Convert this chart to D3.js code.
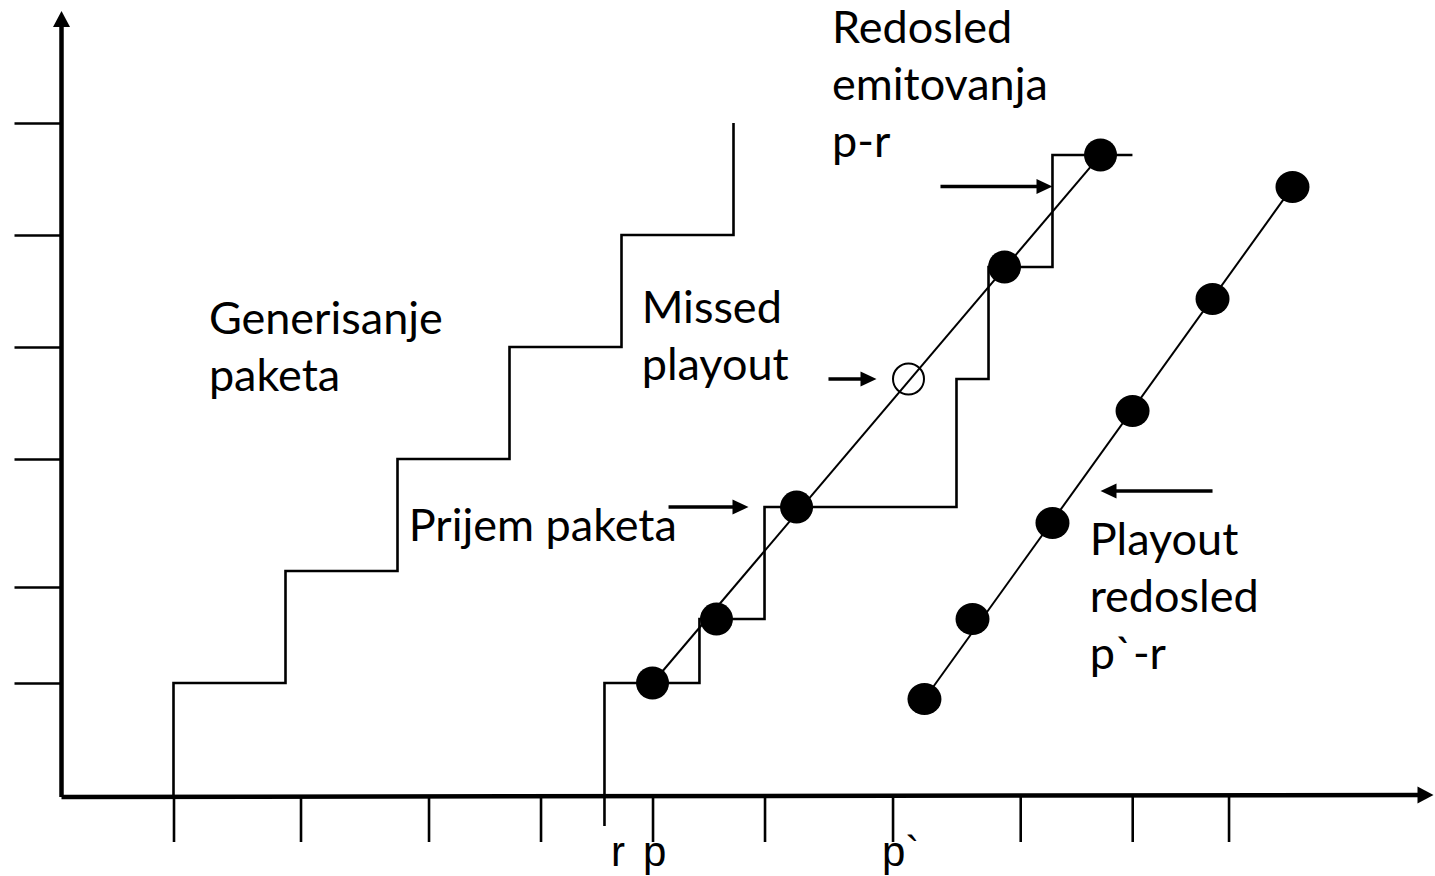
<!DOCTYPE html>
<html>
<head>
<meta charset="utf-8">
<script src="https://cdn.jsdelivr.net/npm/d3@7"></script>
<style>
  html, body { margin: 0; padding: 0; background: #fff; }
  svg { display: block; }
</style>
</head>
<body>
<svg id="chart" width="1435" height="876"></svg>
<script>
// ---------- data (in diagram units) ----------
const yTicks = [1, 1.857, 3, 4, 5, 6];
const xTicks = [1, 2.134, 3.277, 4.277, 5.277, 6.277, 7.42, 8.56, 9.56, 10.42];

// packet generation staircase
const genStepX = [1, 2, 3, 4, 5, 6];
const genLevelY = [1, 2, 3, 4, 5, 6];

// packet reception staircase
const recvStepX = [4.848, 5.696, 6.277, 7.991, 8.277, 8.848];
const recvLevelY = [1.0, 1.571, 2.571, 3.714, 4.714, 5.714];
const recvStartY = -0.277;
const recvEndX = 9.562;

// emission order p-r (dots); missed = open circle
const emitX = [5.277, 5.848, 6.563, 7.5625, 8.42, 9.277];
const emitY = [1.0, 1.571, 2.571, 3.714, 4.714, 5.714];
const emitMissed = [false, false, false, true, false, false];

// playout order p`-r
const playX = [7.705, 8.134, 8.848, 9.563, 10.277, 10.991];
const playY = [0.857, 1.571, 2.429, 3.429, 4.429, 5.429];

// annotation arrows [x1, x2, y]
const arrowX1 = [7.848, 6.848, 5.42, 10.277];
const arrowX2 = [8.848, 7.277, 6.134, 9.277];
const arrowY = [5.433, 3.714, 2.571, 2.714];

// text blocks
const labelLines = [
  ["Redosled", "emitovanja", "p-r"],
  ["Generisanje", "paketa"],
  ["Missed", "playout"],
  ["Prijem paketa"],
  ["Playout", "redosled", "p`-r"]
];
const labelX = [6.88, 1.316, 5.18, 3.1, 9.18];
const labelY = [6.714, 4.116, 4.214, 2.268, 2.139];

const axisLabels = ["r", "p", "p`"];
const axisLabelX = [4.906, 5.192, 7.326];
const axisLabelY = -0.634;

// ---------- drawing ----------
const svg = d3.select("#chart");
const x = d3.scaleLinear().domain([0, 12.25]).range([61.5, 1433.5]);
const y = d3.scaleLinear().domain([0, 7]).range([795, 11]);
const ink = "#000";

// ticks via d3 axes
const xAxis = d3.axisBottom(x).tickValues(xTicks).tickSize(47).tickFormat("");
const gx = svg.append("g").attr("transform", `translate(0,${y(0)})`).call(xAxis);
gx.select(".domain").remove();
gx.selectAll(".tick line").attr("stroke", ink).attr("stroke-width", 2.6);

const yAxis = d3.axisLeft(y).tickValues(yTicks).tickSize(47).tickFormat("");
const gy = svg.append("g").attr("transform", `translate(${x(0)},0)`).call(yAxis);
gy.select(".domain").remove();
gy.selectAll(".tick line").attr("stroke", ink).attr("stroke-width", 2.6);

// main axes with arrowheads
const x0 = x(0), y0 = y(0);
const xEnd = x.range()[1], yEnd = y.range()[1];
svg.append("line").attr("x1", x0).attr("y1", y0 + 2).attr("x2", xEnd - 12).attr("y2", y0)
  .attr("stroke", ink).attr("stroke-width", 4.5);
svg.append("line").attr("x1", x0).attr("y1", y0 + 2).attr("x2", x0).attr("y2", yEnd + 12)
  .attr("stroke", ink).attr("stroke-width", 4.5);
svg.append("path").attr("d", `M${xEnd},${y0} L${xEnd - 16},${y0 - 8.5} L${xEnd - 16},${y0 + 8.5} Z`).attr("fill", ink);
svg.append("path").attr("d", `M${x0},${yEnd} L${x0 - 8.5},${yEnd + 16} L${x0 + 8.5},${yEnd + 16} Z`).attr("fill", ink);

// generation staircase
const genPts = [[genStepX[0], 0]];
genStepX.forEach((sx, i) => {
  genPts.push([sx, genLevelY[i]]);
  if (i < genStepX.length - 1) genPts.push([genStepX[i + 1], genLevelY[i]]);
});
const line = d3.line().x(d => x(d[0])).y(d => y(d[1]));
svg.append("path").attr("d", line(genPts)).attr("fill", "none")
  .attr("stroke", ink).attr("stroke-width", 2.6);

// reception staircase
const recvPts = [[recvStepX[0], recvStartY]];
recvStepX.forEach((sx, i) => {
  recvPts.push([sx, recvLevelY[i]]);
  recvPts.push([i < recvStepX.length - 1 ? recvStepX[i + 1] : recvEndX, recvLevelY[i]]);
});
svg.append("path").attr("d", line(recvPts)).attr("fill", "none")
  .attr("stroke", ink).attr("stroke-width", 2.6);

// emission line and dots
svg.append("line")
  .attr("x1", x(emitX[0])).attr("y1", y(emitY[0]))
  .attr("x2", x(emitX[emitX.length - 1])).attr("y2", y(emitY[emitY.length - 1]))
  .attr("stroke", ink).attr("stroke-width", 2);
svg.append("g").selectAll("circle").data(emitX.map((v, i) => ({ x: v, y: emitY[i], m: emitMissed[i] })))
  .join("circle")
  .attr("cx", d => x(d.x)).attr("cy", d => y(d.y))
  .attr("r", d => d.m ? 15.5 : 16.5)
  .attr("fill", d => d.m ? "none" : ink)
  .attr("stroke", ink).attr("stroke-width", d => d.m ? 2 : 0);

// playout line and dots
svg.append("line")
  .attr("x1", x(playX[0])).attr("y1", y(playY[0]))
  .attr("x2", x(playX[playX.length - 1])).attr("y2", y(playY[playY.length - 1]))
  .attr("stroke", ink).attr("stroke-width", 2);
svg.append("g").selectAll("ellipse").data(playX.map((v, i) => ({ x: v, y: playY[i] })))
  .join("ellipse")
  .attr("cx", d => x(d.x)).attr("cy", d => y(d.y))
  .attr("rx", 17).attr("ry", 16).attr("fill", ink);

// annotation arrows
arrowX1.forEach((ax1, i) => {
  const px1 = x(ax1), px2 = x(arrowX2[i]), py = y(arrowY[i]);
  const dir = px2 > px1 ? 1 : -1;
  const hl = 16, hw = 7.5;
  svg.append("line").attr("x1", px1).attr("y1", py).attr("x2", px2 - dir * hl * 0.8).attr("y2", py)
    .attr("stroke", ink).attr("stroke-width", 3.6);
  svg.append("path")
    .attr("d", `M${px2},${py} L${px2 - dir * hl},${py - hw} L${px2 - dir * hl},${py + hw} Z`)
    .attr("fill", ink);
});

// text annotations
const lineGap = 57;
labelLines.forEach((lines, i) => {
  const t = svg.append("text")
    .attr("x", x(labelX[i])).attr("y", y(labelY[i]))
    .attr("font-family", "Lato, 'Open Sans', sans-serif")
    .attr("font-size", 45).attr("fill", ink);
  lines.forEach((s, j) => {
    t.append("tspan").attr("x", x(labelX[i])).attr("dy", j === 0 ? 0 : lineGap).text(s);
  });
});

// axis letters
axisLabels.forEach((s, i) => {
  svg.append("text").attr("x", x(axisLabelX[i])).attr("y", y(axisLabelY))
    .attr("font-family", "'Liberation Sans', Arial, sans-serif")
    .attr("font-size", 42).attr("fill", ink).text(s);
});
</script>
</body>
</html>
